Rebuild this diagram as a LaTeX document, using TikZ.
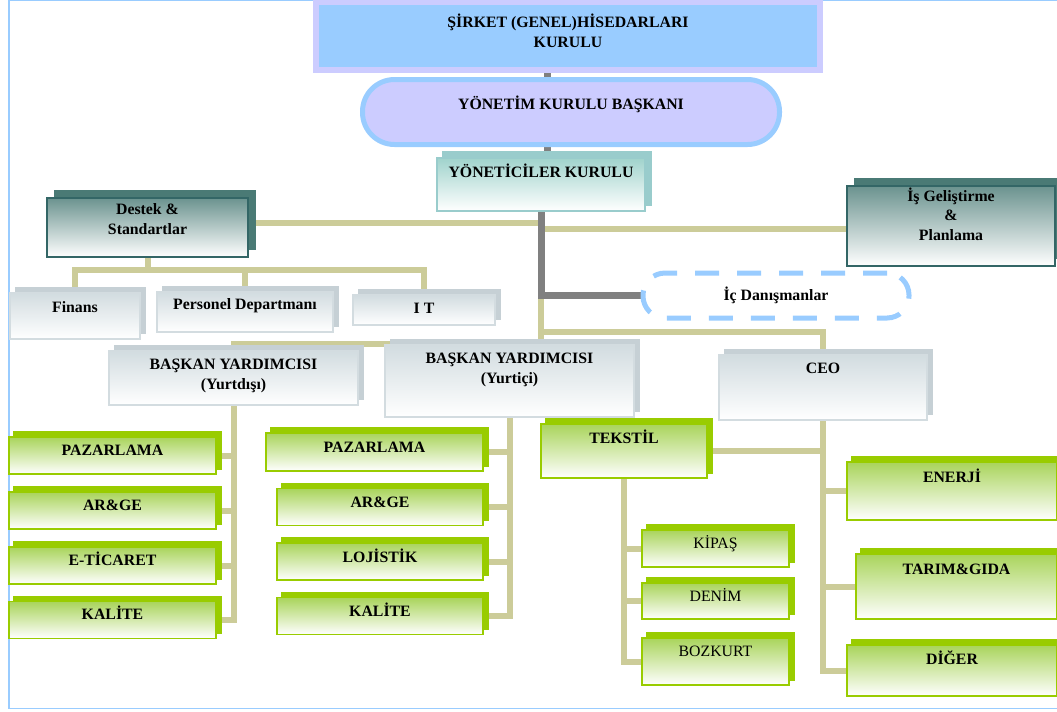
\documentclass[tikz,border=0pt]{standalone}
\usepackage{fontspec}
\setmainfont{Liberation Serif}
\usetikzlibrary{shadows,backgrounds}

\definecolor{skyblue}{HTML}{99CCFF}
\definecolor{lavender}{HTML}{CCCCFF}
\definecolor{stemgray}{HTML}{808080}
\definecolor{khaki}{HTML}{CCCC99}
\definecolor{grnedge}{HTML}{99CC00}
\definecolor{grntop}{HTML}{A9D45B}
\definecolor{tealedge}{HTML}{336666}
\definecolor{tealtop}{HTML}{6B938F}
\definecolor{tealside}{HTML}{4A7A75}
\definecolor{mintedge}{HTML}{99CCCC}
\definecolor{minttop}{HTML}{A0D3CC}
\definecolor{greyedge}{HTML}{D3DCE0}
\definecolor{greytop}{HTML}{D2DCE0}
\definecolor{greyside}{HTML}{C6D0D5}

\newcommand{\orgfont}{\fontsize{9}{10.9}\selectfont}

\tikzset{
  wh/.style 2 args={minimum width=#1*0.02cm, minimum height=#2*0.02cm},
  txt/.style={anchor=base, yshift=-#1*0.02cm, align=center, inner sep=0pt, font=\orgfont\bfseries},
  txtm/.style={txt=#1, font=\orgfont},
  bevel/.style 2 args={general shadow={shadow xshift=#1, shadow yshift=#1, fill=#2, draw=#2}},
  orgbox/.style={inner sep=0pt, outer sep=0pt},
  topbox/.style={orgbox, draw=lavender, fill=skyblue, line width=0.11cm},
  pillbox/.style={orgbox, draw=skyblue, fill=lavender, line width=0.1cm, rounded corners=0.64cm},
  dashbox/.style={orgbox, draw=skyblue, fill=white, line width=0.1cm, rounded corners=0.44cm, dash pattern=on 0.48cm off 0.36cm},
  mintbox/.style={orgbox, draw=mintedge, line width=1pt, top color=minttop, bottom color=white, bevel={0.12cm}{mintedge}},
  tealbox/.style={orgbox, draw=tealedge, line width=1.1pt, top color=tealtop, bottom color=white, bevel={0.15cm}{tealside}},
  greybox/.style={orgbox, draw=greyedge, line width=0.9pt, top color=greytop, bottom color=white, bevel={0.11cm}{greyside}},
  grnbox/.style={orgbox, draw=grnedge, line width=1.1pt, top color=grntop, bottom color=white, bevel={0.1cm}{grnedge}},
  stem/.style={stemgray, line width=0.14cm},
  link/.style={khaki, line width=0.12cm}
}

\begin{document}
\begin{tikzpicture}[x=0.02cm, y=-0.02cm]
  \useasboundingbox (0,0) rectangle (1057,711);

  % board and chairman
  \node[topbox, wh={504}{68}, label={[txt=45]north:ŞİRKET (GENEL)HİSEDARLARI\\KURULU}] (sirket) at (568,36) {};
  \node[pillbox, wh={417}{65}, label={[txt=29.5]north:YÖNETİM KURULU BAŞKANI}] (yonetim) at (571,112) {};
  \node[mintbox, wh={208}{53}, label={[txt=19]north:YÖNETİCİLER KURULU}] (yonetici) at (541,184.5) {};

  % staff units
  \node[tealbox, wh={201}{59}, label={[txt=36]north:Destek \&\\Standartlar}] (destek) at (147.5,227.5) {};
  \node[tealbox, wh={208}{80}, label={[txt=54]north:İş Geliştirme\\\&\\Planlama}] (isgel) at (951,226) {};
  \node[greybox, wh={130}{46}, label={[txt=19]north:Finans}] (finans) at (75,316) {};
  \node[greybox, wh={176}{40}, label={[txt=17]north:Personel Departmanı}] (personel) at (245,312) {};
  \node[greybox, wh={142}{30}, label={[txt=18]north:I T}] (it) at (424,310) {};
  \node[dashbox, wh={266}{45}, label={[txt=27]north:İç Danışmanlar}] (icdanis) at (776,295.5) {};

  % line managers
  \node[greybox, wh={249}{54}, label={[txt=38]north:BAŞKAN YARDIMCISI\\(Yurtdışı)}] (yurtdisi) at (233.5,378) {};
  \node[greybox, wh={249}{72}, label={[txt=38]north:BAŞKAN YARDIMCISI\\(Yurtiçi)}] (yurtici) at (509.5,381) {};
  \node[greybox, wh={208}{65}, label={[txt=18]north:CEO}] (ceo) at (823,387.5) {};

  % departments
  \foreach \n/\y/\t in {ypaz/455.5/PAZARLAMA, yarge/510.5/AR\&GE, yetic/565.5/E-TİCARET, ykal/620/KALİTE}
    \node[grnbox, wh={207}{37}, label={[txt=18]north:\t}] (\n) at (112.5,\y) {};
  \node[grnbox, wh={217}{38}, label={[txt=19]north:PAZARLAMA}] (mpaz) at (374.5,452) {};
  \foreach \n/\y/\t in {marge/507/AR\&GE, mloj/561.5/LOJİSTİK, mkal/616/KALİTE}
    \node[grnbox, wh={206}{37}, label={[txt=19]north:\t}] (\n) at (380,\y) {};

  % group companies
  \node[grnbox, wh={166}{54}, label={[txt=19]north:TEKSTİL}] (tekstil) at (624,451) {};
  \node[grnbox, wh={210}{58}, label={[txt=20]north:ENERJİ}] (enerji) at (952,491) {};
  \node[grnbox, wh={201}{65}, label={[txt=20]north:TARIM\&GIDA}] (tarim) at (956.5,586.5) {};
  \node[grnbox, wh={210}{51}, label={[txt=19]north:DİĞER}] (diger) at (952,670.5) {};
  \node[grnbox, wh={147}{37}, label={[txtm=18]north:KİPAŞ}] (kipas) at (715.5,548.5) {};
  \node[grnbox, wh={147}{36}, label={[txtm=18]north:DENİM}] (denim) at (715.5,601) {};
  \node[grnbox, wh={147}{47}, label={[txtm=18]north:BOZKURT}] (bozkurt) at (715.5,661.5) {};

  \begin{scope}[on background layer]
    \draw[skyblue, line width=0.6pt] (1057,0.5) -- (9,0.5) -- (9,708.5) -- (1057,708.5);
    \coordinate (axis) at (547,0);
    \coordinate (jl) at (541,223);
    \coordinate (jr) at (541,229);
    \coordinate (jc) at (541,332);
    \coordinate (jy) at (541,344);
    \coordinate (bus) at (0,270);
    % khaki links
    \draw[link] (destek.east |- jl) -- (jl);
    \draw[link] (jr) -- (isgel.west |- jr);
    \draw[link] (yonetici.south |- icdanis.west) -- (jy) -| (yurtdisi.north);
    \draw[link] (jc) -| (ceo.north);
    \foreach \b in {finans,personel,it}
      \draw[link] (destek.south) -- (destek.south |- bus) -| (\b.north);
    \foreach \b in {ypaz,yarge,yetic,ykal}
      \draw[link] (\b.east) -| (yurtdisi.south);
    \foreach \b in {mpaz,marge,mloj,mkal}
      \draw[link] (\b.east) -| (yurtici.south);
    \foreach \b in {tekstil,enerji,tarim,diger}
      \draw[link] (\b) -| (ceo.south);
    \foreach \b in {kipas,denim,bozkurt}
      \draw[link] (\b.west) -| (tekstil.south);
    % grey stems
    \draw[stem] (sirket.south -| axis) -- (yonetim.north -| axis);
    \draw[stem] (yonetim.south -| axis) -- (yonetici.north -| axis);
    \draw[stem] (yonetici.south) |- (icdanis.west);
  \end{scope}
\end{tikzpicture}
\end{document}
